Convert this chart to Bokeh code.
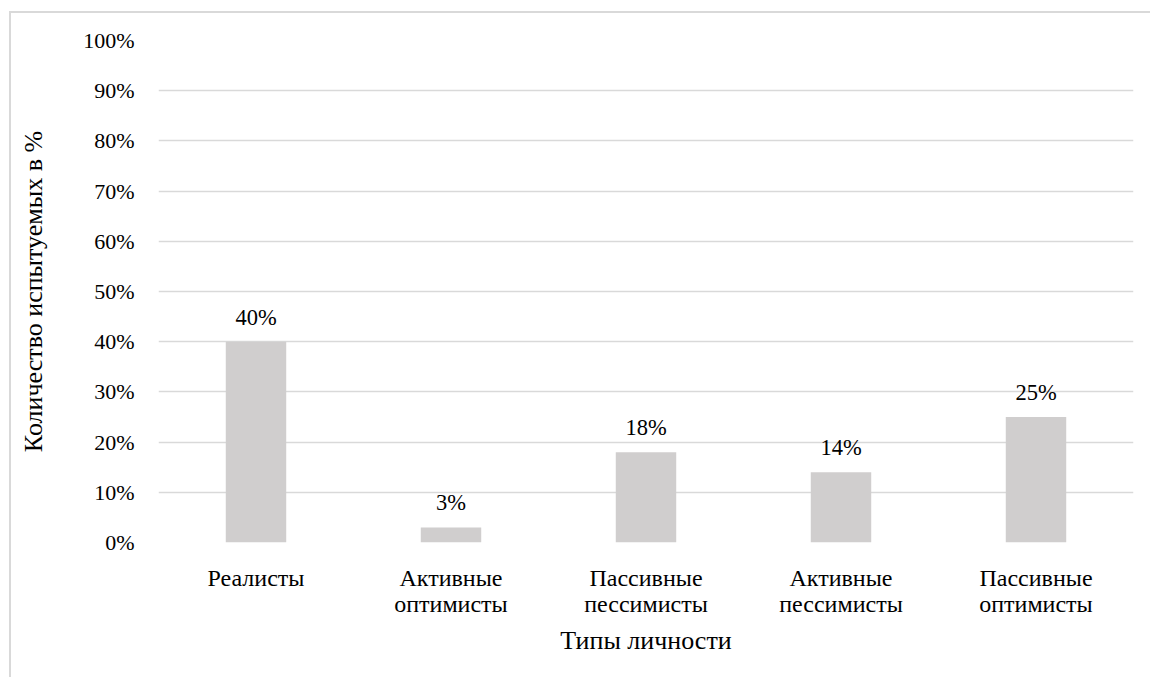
from bokeh.plotting import figure
from bokeh.models import ColumnDataSource, FactorRange, Range1d, NumeralTickFormatter, LabelSet, FixedTicker
from bokeh.embed import file_html
from bokeh.resources import INLINE

categories = ["Реалисты", "Активные\nоптимисты", "Пассивные\nпессимисты", "Активные\nпессимисты", "Пассивные\nоптимисты"]
values = [40, 3, 18, 14, 25]
value_labels = ["40%", "3%", "18%", "14%", "25%"]
y_ticks = [0, 10, 20, 30, 40, 50, 60, 70, 80, 90, 100]

FONT = "'Liberation Serif', serif"

src = ColumnDataSource(dict(cat=categories, val=values, lab=value_labels))

p = figure(x_range=FactorRange(*categories), y_range=Range1d(0, 100),
           width=1141, height=666, output_backend="svg", toolbar_location=None,
           min_border_left=147, min_border_right=19, min_border_top=27, min_border_bottom=137)
p.margin = (11, 0, 0, 9)
p.styles = {"border-top": "2px solid #D9D9D9", "border-left": "2px solid #D9D9D9"}
p.outline_line_color = None
p.background_fill_color = "white"
p.border_fill_color = "white"

p.vbar(x="cat", top="val", width=0.31, source=src, fill_color="#D0CECE", line_color=None)

labels = LabelSet(x="cat", y="val", text="lab", source=src, text_align="center", text_baseline="bottom",
                  y_offset=12, text_font=FONT, text_font_size="22.5px", text_color="#000000")
p.add_layout(labels)

p.yaxis.ticker = FixedTicker(ticks=y_ticks)
p.yaxis.formatter = NumeralTickFormatter(format="0")
p.yaxis.major_label_overrides = {t: f"{t}%" for t in y_ticks}

for ax in (p.xaxis, p.yaxis):
    ax.axis_line_color = None
    ax.major_tick_line_color = None
    ax.minor_tick_line_color = None
    ax.major_label_text_font = FONT
    ax.major_label_text_color = "#000000"
    ax.axis_label_text_font = FONT
    ax.axis_label_text_font_size = "26px"
    ax.axis_label_text_font_style = "normal"
    ax.axis_label_text_color = "#000000"

p.yaxis.major_label_text_font_size = "22px"
p.xaxis.major_label_text_font_size = "24px"
p.xaxis.major_label_text_line_height = 1.0

p.xaxis.major_label_standoff = 16
p.yaxis.major_label_standoff = 18
p.xaxis.axis_label = "Типы личности"
p.yaxis.axis_label = "Количество испытуемых в %"
p.xaxis.axis_label_standoff = 6
p.yaxis.axis_label_standoff = 32

p.xgrid.grid_line_color = None
p.ygrid.grid_line_color = "#D9D9D9"
p.ygrid.grid_line_width = 1.5

open("out.html", "w").write(file_html(p, INLINE))
